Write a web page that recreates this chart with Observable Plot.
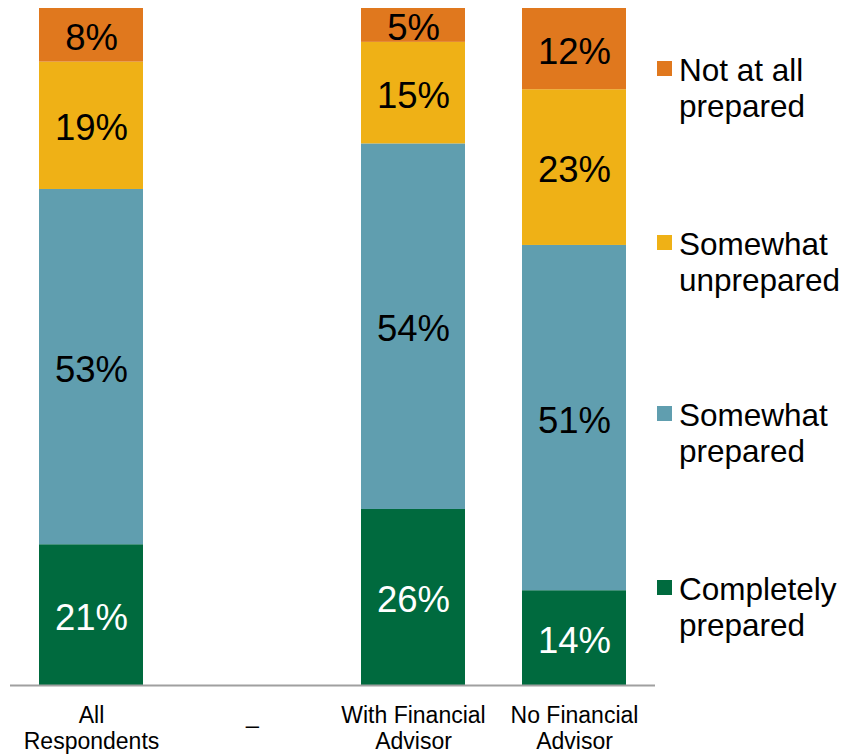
<!DOCTYPE html>
<html>
<head>
<meta charset="utf-8">
<script src="https://cdn.jsdelivr.net/npm/d3@7"></script>
<script src="https://cdn.jsdelivr.net/npm/@observablehq/plot@0.6"></script>
<style>
  html, body { margin: 0; padding: 0; background: #fff; }
  body { width: 844px; height: 754px; position: relative; overflow: hidden; font-family: "Liberation Sans", Arial, sans-serif; }
  #chart { position: absolute; left: 0; top: 0; }
  .leg { position: absolute; left: 657px; font-size: 31.5px; line-height: 36px; color: #000; }
  .leg .sw { position: absolute; left: 0; top: 9px; width: 15px; height: 15px; }
  .leg .tx { position: absolute; left: 22px; top: 0; white-space: nowrap; }
</style>
</head>
<body>
<div id="chart"></div>
<script>
const categories = ["All\nRespondents", "_", "With Financial\nAdvisor", "No Financial\nAdvisor"];
const series = ["Completely prepared", "Somewhat prepared", "Somewhat unprepared", "Not at all prepared"];
const legendLabels = ["Completely\nprepared", "Somewhat\nprepared", "Somewhat\nunprepared", "Not at all\nprepared"];
const colors = ["#006a3e", "#609eaf", "#efb116", "#e0781e"];
const labelColors = ["#ffffff", "#000000", "#000000", "#000000"];
const barCategories = ["All\nRespondents", "With Financial\nAdvisor", "No Financial\nAdvisor"];
const completely = [21, 26, 14];
const somewhatPrepared = [53, 54, 51];
const somewhatUnprepared = [19, 15, 23];
const notAtAll = [8, 5, 12];
const legendCenters = [589, 415, 244, 70];

const valuesBySeries = [completely, somewhatPrepared, somewhatUnprepared, notAtAll];
const data = [];
series.forEach((s, si) => {
  barCategories.forEach((c, ci) => {
    data.push({category: c, series: s, value: valuesBySeries[si][ci], labelColor: labelColors[si]});
  });
});

const chart = Plot.plot({
  width: 844,
  height: 754,
  marginTop: 8,
  marginBottom: 69,
  marginLeft: 10,
  marginRight: 189,
  style: {fontFamily: '"Liberation Sans", Arial, sans-serif', background: "#fff"},
  x: {domain: categories, paddingInner: 0.354, paddingOuter: 0.177, label: null},
  y: {domain: [0, 1], axis: null},
  color: {domain: series, range: colors},
  marks: [
    Plot.barY(data, Plot.stackY({x: "category", y: "value", z: "series", fill: "series", offset: "normalize", order: series})),
    Plot.text(data, Plot.stackY({x: "category", y: "value", z: "series", offset: "normalize", order: series,
      text: d => d.value + "%", fill: "labelColor", fontSize: 36.5, dy: 3})),
    Plot.ruleY([0], {stroke: "#a0a0a0", strokeWidth: 2}),
    Plot.axisX({tickSize: 0, tickPadding: 19, fontSize: 23, lineHeight: 1.13, fill: "#000", label: null, color: "#000"})
  ]
});
document.getElementById("chart").appendChild(chart);

series.forEach((s, i) => {
  const div = document.createElement("div");
  div.className = "leg";
  div.style.top = (legendCenters[i] - 18) + "px";
  const sw = document.createElement("div");
  sw.className = "sw";
  sw.style.background = colors[i];
  const tx = document.createElement("div");
  tx.className = "tx";
  tx.innerHTML = legendLabels[i].split("\n").join("<br>");
  div.appendChild(sw);
  div.appendChild(tx);
  document.body.appendChild(div);
});
</script>
</body>
</html>
